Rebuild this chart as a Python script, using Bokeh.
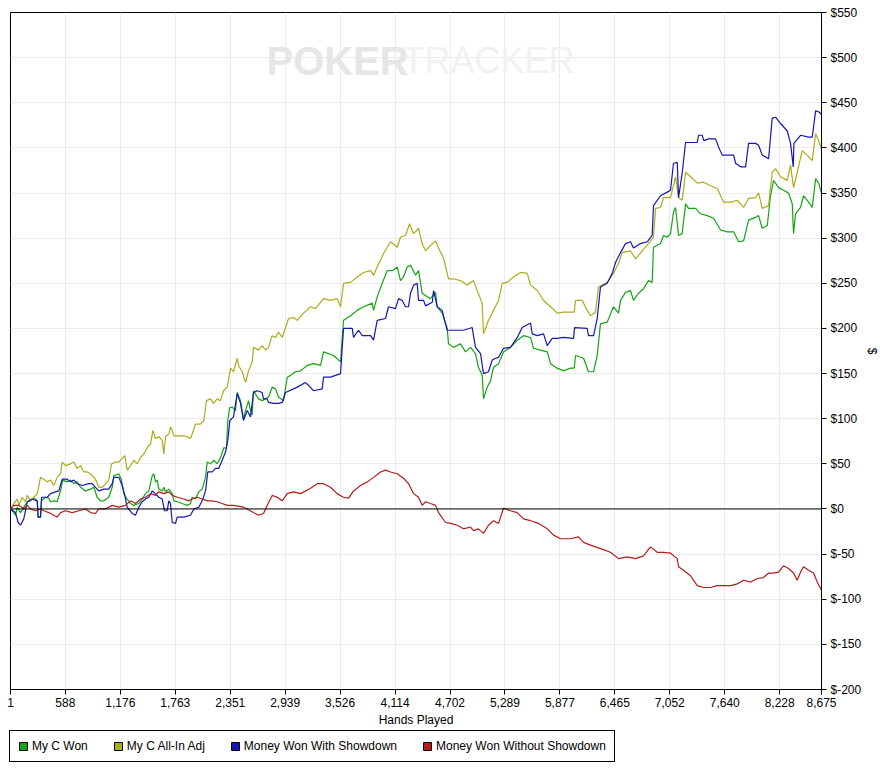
from bokeh.plotting import figure
from bokeh.layouts import column
from bokeh.models import (FixedTicker, NumeralTickFormatter, PrintfTickFormatter, Span,
                          Label, Legend, LegendItem, Range1d)
from bokeh.embed import file_html
from bokeh.resources import INLINE

FONT = "Liberation Sans"
NAN = float("nan")

# ---------------- data ----------------
x_ticks = [1, 588, 1176, 1763, 2351, 2939, 3526, 4114, 4702, 5289, 5877, 6465, 7052, 7640, 8228, 8675]
y_ticks = list(range(-200, 551, 50))

series_names = ["My C Won", "My C All-In Adj", "Money Won With Showdown", "Money Won Without Showdown"]
series_colors = ["#12a412", "#acac1c", "#1616b4", "#b41c1c"]

won_hands = [1, 36, 54, 73, 108, 143, 180, 215, 250, 287, 297, 322, 333, 375, 411, 429, 464, 500, 536, 560,
             607, 643, 678, 714, 750, 803, 857, 892, 928, 964, 999, 1052, 1089, 1106, 1159, 1188, 1213, 1249,
             1285, 1320, 1373, 1410, 1445, 1480, 1517, 1534, 1552, 1570, 1587, 1624, 1641, 1659, 1694, 1731,
             1748, 1784, 1837, 1891, 1926, 1944, 1980, 2015, 2051, 2087, 2105, 2140, 2176, 2212, 2247, 2283,
             2311, 2325, 2344, 2372, 2407, 2426, 2461, 2493, 2515, 2547, 2568, 2586, 2600, 2654, 2693, 2729,
             2761, 2800, 2836, 2868, 2921, 2961, 2996, 3049, 3103, 3175, 3242, 3317, 3349, 3456, 3531, 3563,
             3638, 3709, 3777, 3870, 3884, 3923, 3977, 4030, 4084, 4137, 4172, 4204, 4244, 4279, 4333, 4365,
             4404, 4493, 4547, 4565, 4618, 4672, 4686, 4739, 4814, 4867, 4921, 4974, 5006, 5046, 5060, 5100,
             5135, 5167, 5221, 5274, 5349, 5421, 5488, 5563, 5595, 5670, 5742, 5777, 5849, 5916, 5991, 6030,
             6044, 6130, 6183, 6237, 6276, 6311, 6383, 6450, 6504, 6525, 6579, 6632, 6664, 6718, 6771, 6825,
             6864, 6878, 6953, 6985, 7025, 7060, 7092, 7114, 7146, 7185, 7221, 7253, 7328, 7382, 7453, 7521,
             7596, 7667, 7735, 7788, 7842, 7895, 7970, 8002, 8041, 8095, 8130, 8162, 8216, 8269, 8323, 8362,
             8376, 8397, 8451, 8483, 8537, 8576, 8612, 8644, 8675]
won_values = [0, -4, -7, 2, -4, 2, 8, 9, 12, 9, -9, -9, 9, 13, 12, 8, 9, 8, 20, 32,
              30, 32, 28, 30, 24, 20, 22, 24, 13, 9, 9, 13, 24, 37, 39, 32, 17, 11,
              6, 4, 6, 11, 17, 20, 37, 39, 30, 32, 22, 20, 24, 19, 22, 17,
              9, 8, 6, 4, 6, 13, 11, 19, 22, 35, 52, 50, 54, 50, 57, 68,
              67, 98, 112, 113, 109, 129, 120, 100, 109, 120, 109, 104, 131, 122, 120, 122,
              124, 135, 133, 124, 120, 146, 148, 152, 153, 159, 161, 159, 174, 170, 163, 209,
              214, 220, 224, 228, 220, 235, 250, 264, 264, 268, 253, 257, 268, 270, 259, 264,
              239, 233, 240, 224, 217, 200, 183, 179, 183, 174, 179, 172, 157, 148, 122, 135,
              142, 157, 161, 174, 179, 187, 192, 190, 178, 176, 174, 161, 156, 153, 156, 156,
              170, 167, 152, 152, 170, 205, 207, 224, 217, 231, 240, 242, 231, 239, 244, 253,
              251, 290, 294, 303, 301, 305, 329, 334, 303, 305, 338, 333, 333, 327, 325, 322,
              309, 307, 307, 296, 297, 320, 323, 325, 311, 314, 347, 364, 356, 353, 350, 338,
              305, 327, 334, 347, 340, 334, 366, 361, 350]

adj_hands = [1, 36, 73, 90, 126, 161, 180, 215, 250, 287, 322, 357, 394, 429, 464, 500, 536, 554, 589, 643,
             678, 714, 750, 785, 821, 857, 910, 945, 982, 1017, 1052, 1081, 1124, 1159, 1196, 1223, 1249,
             1285, 1320, 1356, 1392, 1427, 1463, 1499, 1524, 1552, 1587, 1624, 1641, 1659, 1694, 1712, 1731,
             1748, 1801, 1855, 1891, 1926, 1944, 1980, 2033, 2069, 2097, 2140, 2172, 2212, 2247, 2279, 2319,
             2354, 2386, 2426, 2440, 2480, 2515, 2547, 2586, 2600, 2654, 2693, 2729, 2761, 2800, 2836, 2868,
             2907, 2943, 2975, 3028, 3068, 3135, 3210, 3263, 3349, 3424, 3495, 3531, 3563, 3638, 3709, 3777,
             3852, 3884, 3923, 3991, 4066, 4137, 4172, 4226, 4269, 4312, 4365, 4404, 4440, 4493, 4547, 4579,
             4632, 4686, 4739, 4814, 4885, 4953, 4992, 5046, 5060, 5113, 5167, 5221, 5260, 5314, 5381, 5456,
             5528, 5563, 5635, 5702, 5777, 5849, 5916, 5991, 6030, 6044, 6116, 6169, 6204, 6258, 6290, 6383,
             6450, 6504, 6543, 6632, 6686, 6757, 6825, 6878, 6900, 6953, 6985, 7060, 7114, 7146, 7185, 7221,
             7275, 7346, 7414, 7489, 7560, 7628, 7703, 7774, 7842, 7895, 7970, 8002, 8041, 8109, 8148, 8184,
             8237, 8308, 8344, 8376, 8415, 8469, 8522, 8576, 8612, 8644, 8675]
adj_values = [0, 6, 11, 4, 13, 8, 15, 9, 13, 17, 35, 33, 30, 32, 26, 35, 39, 52, 48, 50,
              52, 45, 48, 41, 41, 39, 33, 24, 24, 28, 32, 50, 52, 52, 56, 59, 43,
              48, 54, 50, 57, 61, 68, 72, 87, 78, 80, 76, 61, 80, 83, 91, 87,
              81, 81, 81, 80, 78, 83, 94, 94, 98, 120, 122, 117, 122, 120, 131, 135,
              156, 152, 167, 159, 152, 140, 153, 163, 179, 176, 181, 176, 179, 192, 190, 196,
              190, 201, 211, 212, 209, 217, 224, 222, 233, 231, 233, 224, 250, 251, 257, 262,
              264, 259, 268, 283, 296, 290, 301, 303, 316, 305, 311, 294, 286, 292, 297, 289,
              278, 255, 255, 253, 248, 253, 242, 228, 194, 209, 220, 231, 250, 251, 257, 262,
              261, 248, 242, 231, 224, 217, 218, 218, 218, 231, 231, 220, 214, 218, 246, 251,
              261, 272, 284, 286, 277, 286, 294, 301, 333, 334, 345, 345, 368, 345, 342, 373,
              368, 361, 362, 358, 355, 340, 340, 342, 334, 344, 345, 350, 333, 336, 373, 377,
              368, 364, 381, 356, 373, 397, 392, 386, 416, 408, 399]

sd_hands = [1, 54, 83, 108, 143, 180, 233, 287, 297, 322, 333, 394, 429, 482, 518, 554, 607, 643, 678, 714,
            768, 838, 875, 910, 945, 999, 1052, 1089, 1106, 1159, 1196, 1223, 1249, 1303, 1338, 1373, 1410,
            1445, 1480, 1517, 1552, 1587, 1624, 1648, 1677, 1694, 1712, 1731, 1766, 1784, 1855, 1926, 1962,
            2015, 2051, 2087, 2111, 2158, 2194, 2229, 2265, 2301, 2325, 2347, 2386, 2426, 2461, 2493, 2533,
            2568, 2600, 2640, 2693, 2707, 2747, 2761, 2814, 2868, 2907, 2943, 3028, 3068, 3156, 3189, 3242,
            3335, 3349, 3424, 3531, 3549, 3563, 3656, 3670, 3723, 3763, 3852, 3884, 3923, 4012, 4044, 4119,
            4151, 4191, 4226, 4258, 4279, 4312, 4351, 4365, 4419, 4440, 4512, 4526, 4565, 4618, 4632, 4672,
            4779, 4846, 4939, 4974, 5028, 5060, 5113, 5153, 5188, 5221, 5274, 5349, 5421, 5474, 5563, 5581,
            5635, 5702, 5742, 5795, 5849, 5916, 6023, 6034, 6169, 6183, 6237, 6276, 6311, 6383, 6437, 6472,
            6525, 6579, 6632, 6664, 6739, 6811, 6864, 6878, 6953, 7025, 7060, 7092, 7132, 7146, 7185, 7221,
            7346, 7360, 7399, 7416, 7467, 7542, 7574, 7613, 7735, 7756, 7810, 7863, 7895, 7970, 8002, 8041,
            8109, 8148, 8184, 8237, 8308, 8344, 8373, 8380, 8451, 8537, 8576, 8612, 8644, 8675]
sd_values = [0, -4, -15, -18, -11, 8, 11, 9, -9, -9, 13, 13, 17, 19, 20, 33, 33, 30, 32, 28,
             26, 28, 28, 24, 20, 22, 22, 28, 35, 35, 26, 15, 2, -5, -7, 2, 8,
             11, 13, 20, 17, 13, 11, -2, -2, 9, 6, -15, -16, -9, -9, -7, 0,
             2, 9, 20, 41, 41, 45, 45, 54, 63, 76, 98, 102, 128, 117, 98, 109,
             102, 129, 131, 129, 122, 122, 118, 117, 117, 118, 129, 133, 135, 140, 137, 131,
             133, 146, 146, 150, 179, 200, 200, 190, 198, 192, 192, 187, 209, 211, 224, 222,
             233, 231, 224, 224, 239, 248, 250, 231, 231, 225, 229, 242, 224, 220, 214, 198,
             198, 198, 201, 179, 172, 150, 152, 165, 167, 168, 178, 179, 190, 201, 206, 194,
             192, 194, 181, 189, 189, 190, 189, 201, 200, 192, 192, 211, 246, 250, 261, 273,
             284, 294, 296, 289, 294, 296, 303, 336, 347, 351, 353, 383, 384, 345, 372, 406,
             406, 414, 414, 408, 410, 410, 401, 392, 392, 383, 379, 379, 405, 405, 403, 392,
             388, 433, 434, 427, 419, 405, 379, 405, 414, 412, 412, 441, 440, 437]

nsd_hands = [1, 36, 90, 143, 180, 215, 268, 322, 357, 411, 464, 500, 536, 589, 661, 732, 803, 857, 910, 945,
             1017, 1089, 1159, 1231, 1285, 1338, 1392, 1445, 1499, 1552, 1587, 1641, 1694, 1731, 1784, 1855,
             1908, 1944, 1998, 2051, 2105, 2158, 2212, 2265, 2319, 2386, 2493, 2600, 2654, 2707, 2747, 2800,
             2854, 2907, 2961, 3028, 3103, 3210, 3282, 3349, 3424, 3495, 3563, 3617, 3670, 3745, 3817, 3884,
             3959, 4012, 4066, 4137, 4204, 4258, 4312, 4365, 4404, 4440, 4493, 4547, 4579, 4654, 4707, 4779,
             4846, 4921, 4953, 5006, 5060, 5113, 5167, 5221, 5274, 5349, 5421, 5488, 5563, 5649, 5742, 5809,
             5884, 5991, 6076, 6130, 6204, 6311, 6418, 6504, 6597, 6686, 6771, 6846, 6918, 6985, 7060, 7132,
             7146, 7199, 7274, 7346, 7414, 7489, 7560, 7628, 7703, 7774, 7842, 7917, 7988, 8055, 8109, 8162,
             8216, 8269, 8323, 8376, 8415, 8451, 8483, 8537, 8590, 8629, 8665, 8675]
nsd_values = [0, 4, 4, 0, 4, 0, -2, 0, -2, -4, -7, -9, -4, -2, -4, -2, 0, -4, -5, 0,
              0, 4, 2, 4, 9, 6, 11, 13, 17, 15, 19, 17, 19, 15, 13, 11,
              9, 11, 13, 11, 9, 9, 8, 6, 4, 4, 2, -4, -7, -5, 4, 15,
              13, 9, 17, 19, 17, 23, 28, 28, 24, 17, 13, 12, 20, 26, 30, 35,
              41, 43, 41, 39, 34, 28, 17, 13, 4, 8, 6, 4, -4, -15, -16, -18,
              -22, -20, -24, -22, -27, -18, -13, -16, 1, -2, -4, -11, -13, -16, -22, -29,
              -33, -33, -31, -37, -40, -44, -48, -55, -53, -55, -52, -42, -48, -48, -49, -55,
              -64, -68, -74, -85, -87, -87, -85, -85, -85, -83, -79, -81, -77, -76, -71, -71,
              -70, -63, -66, -71, -79, -70, -64, -68, -71, -81, -88, -90]

series_x = [won_hands, adj_hands, sd_hands, nsd_hands]
series_y = [won_values, adj_values, sd_values, nsd_values]

# ---------------- main figure ----------------
p = figure(frame_width=811, frame_height=677,
           x_range=Range1d(1, 8675), y_range=Range1d(-200, 550),
           y_axis_location="right", output_backend="svg", toolbar_location=None,
           min_border_left=10, min_border_top=12, min_border_right=0, min_border_bottom=37)
p.background_fill_color = "white"
p.border_fill_color = "white"
p.outline_line_color = "black"
p.outline_line_width = 1

p.xaxis.ticker = FixedTicker(ticks=x_ticks)
p.xaxis.formatter = NumeralTickFormatter(format="0,0")
p.yaxis.ticker = FixedTicker(ticks=y_ticks)
p.yaxis.formatter = PrintfTickFormatter(format="$%d")

for ax in (p.xaxis[0], p.yaxis[0]):
    ax.axis_line_color = "black"
    ax.major_tick_line_color = "black"
    ax.major_tick_out = 5
    ax.major_tick_in = 0
    ax.minor_tick_line_color = None
    ax.major_label_text_font = FONT
    ax.major_label_text_font_size = "12px"
    ax.major_label_text_color = "black"
    ax.axis_label_text_font = FONT
    ax.axis_label_text_font_size = "12px"
    ax.axis_label_text_font_style = "normal"
    ax.axis_label_text_color = "black"

p.xaxis.axis_label = "Hands Played"
p.yaxis.axis_label = "$"
p.xaxis.major_label_standoff = 3
p.xaxis.axis_label_standoff = 3
p.yaxis.major_label_standoff = 4
p.yaxis.axis_label_standoff = 1

p.xgrid.grid_line_color = "#ebebeb"
p.ygrid.grid_line_color = "#ebebeb"

# watermark
p.add_layout(Label(x=256, y=629, x_units="screen", y_units="screen", text="POKER",
                   text_font=FONT, text_font_size="40px", text_font_style="bold",
                   text_color="#e6e6e6", text_baseline="middle", level="underlay"))
p.add_layout(Label(x=392, y=629, x_units="screen", y_units="screen", text="TRACKER",
                   text_font=FONT, text_font_size="36px", text_font_style="normal",
                   text_color="#f1f1f1", text_baseline="middle", level="underlay"))

p.add_layout(Span(location=0, dimension="width", line_color="black", line_width=1))

for name, color, xs, ys in zip(series_names, series_colors, series_x, series_y):
    p.line(xs, ys, line_color=color, line_width=1.2)

# ---------------- legend strip ----------------
q = figure(frame_width=880, frame_height=40, x_range=Range1d(0, 1), y_range=Range1d(0, 1),
           x_axis_location=None, y_axis_location=None, output_backend="svg", toolbar_location=None,
           min_border_left=0, min_border_right=0, min_border_top=0, min_border_bottom=0)
q.outline_line_color = None
q.xgrid.visible = False
q.ygrid.visible = False
q.background_fill_color = "white"
q.border_fill_color = "white"

items = []
for name, color in zip(series_names, series_colors):
    proxy = q.quad(left=[NAN], right=[NAN], top=[NAN], bottom=[NAN],
                   fill_color=color, line_color="black", line_width=1)
    items.append(LegendItem(label=name, renderers=[proxy]))

legend = Legend(items=items, orientation="horizontal", location=(9, 7), margin=0,
                padding=8, spacing=25, glyph_width=10, glyph_height=10, label_standoff=4,
                label_height=14, label_text_font=FONT, label_text_font_size="12px",
                label_text_color="black", border_line_color="black", border_line_width=1,
                border_line_alpha=1, background_fill_color="white", background_fill_alpha=1)
q.add_layout(legend, "center")

layout = column(p, q, spacing=0)
open("out.html", "w").write(file_html(layout, INLINE))
